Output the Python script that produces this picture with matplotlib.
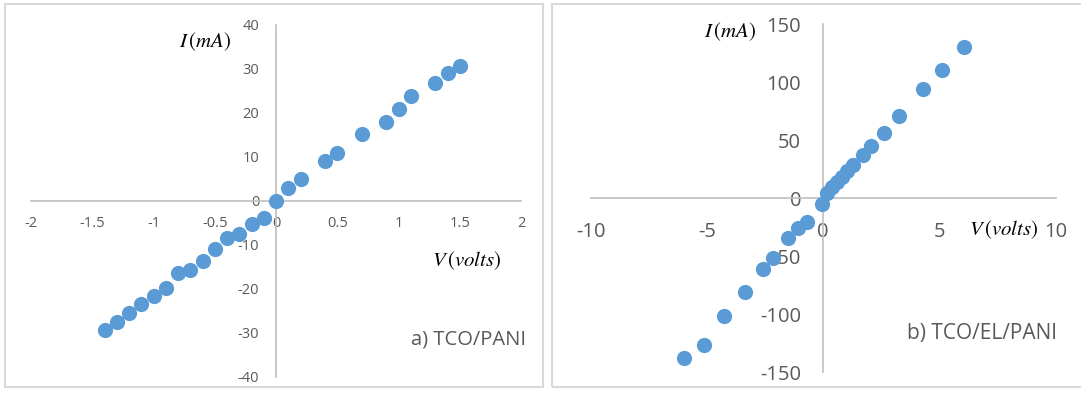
import matplotlib
matplotlib.use("Agg")
import matplotlib.pyplot as plt
from matplotlib.patches import Rectangle

# Curvas I-V medidas
v_a = [-1.4, -1.3, -1.2, -1.1, -1.0, -0.9, -0.8, -0.7, -0.6, -0.5, -0.4, -0.3, -0.2,
       -0.1, 0.0, 0.1, 0.2, 0.4, 0.5, 0.7, 0.9, 1.0, 1.1, 1.3, 1.4, 1.5]
i_a = [-29.4, -27.4, -25.5, -23.3, -21.7, -19.7, -16.3, -15.6, -13.6, -10.8, -8.5, -7.6, -5.2,
       -3.9, 0.0, 2.9, 5.0, 9.0, 10.8, 15.2, 18.0, 20.8, 23.9, 26.9, 29.1, 30.6]

v_b = [-6.0, -5.14, -4.29, -3.39, -2.59, -2.18, -1.52, -1.08, -0.68, -0.07, 0.15, 0.37,
       0.59, 0.82, 1.04, 1.26, 1.71, 2.04, 2.62, 3.25, 4.31, 5.11, 6.05]
i_b = [-137.9, -126.4, -101.4, -80.7, -60.9, -51.7, -34.5, -25.9, -20.7, -4.9, 4.3, 9.5,
       13.8, 18.1, 23.3, 28.2, 37.4, 45.1, 56.3, 70.7, 93.7, 110.6, 130.2]

xticks_a = [-2, -1.5, -1, -0.5, 0, 0.5, 1, 1.5, 2]
yticks_a = [-40, -30, -20, -10, 0, 10, 20, 30, 40]
xticks_b = [-10, -5, 0, 5, 10]
yticks_b = [-150, -100, -50, 0, 50, 100, 150]

W, H = 1081, 393
BLUE = "#5b9bd5"
GRID = "#bfbfbf"
TXT = "#595959"

plt.rcParams["font.family"] = ["Open Sans", "DejaVu Sans"]
plt.rcParams["mathtext.fontset"] = "stix"
plt.rcParams["axes.unicode_minus"] = False

fig = plt.figure(figsize=(W / 100, H / 100), dpi=100)


def px(x, y):
    # pixeles (origen arriba-izquierda) -> fraccion de figura
    return x / W, 1 - y / H


def box(x0, y0, x1, y1):
    fx, fy = px(x0, y1)
    fig.add_artist(Rectangle((fx, fy), (x1 - x0) / W, (y1 - y0) / H,
                             transform=fig.transFigure, fill=False,
                             edgecolor="#d9d9d9", lw=1.5))


def panel(rect, v, i, xt, yt, fs, xpad, ypad):
    ax = fig.add_axes(rect)
    ax.scatter(v, i, s=120, color=BLUE, zorder=3, linewidths=0)
    ax.set_xlim(xt[0], xt[-1])
    ax.set_ylim(yt[0], yt[-1])
    ax.set_xticks(xt)
    ax.set_yticks(yt)
    ax.set_xticklabels([f"{t:g}" for t in xt])
    ax.set_yticklabels([f"{t:g}" for t in yt])
    for s in ("top", "right"):
        ax.spines[s].set_visible(False)
    for s in ("left", "bottom"):
        ax.spines[s].set_position("zero")
        ax.spines[s].set_color(GRID)
        ax.spines[s].set_linewidth(1.2)
    ax.tick_params(axis="x", length=0, labelsize=fs, colors=TXT, pad=xpad)
    ax.tick_params(axis="y", length=0, labelsize=fs, colors=TXT, pad=ypad)
    ax.patch.set_alpha(0)
    return ax


box(5, 4, 543, 387)
box(552, 4, 1090, 387)

l, t = px(31, 25)
r, b = px(521, 377)
ax1 = panel([l, b, r - l, t - b], v_a, i_a, xticks_a, yticks_a, 10.5, 11, 12)

l, t = px(591, 24)
r, b = px(1055.5, 372)
ax2 = panel([l, b, r - l, t - b], v_b, i_b, xticks_b, yticks_b, 14.5, 17, 16)

fig.text(*px(205, 42), r"$I\,(mA)$", fontsize=15, ha="center", va="center")
fig.text(*px(467, 261), r"$V\,(volts)$", fontsize=15, ha="center", va="center")
fig.text(*px(730, 32), r"$I\,(mA)$", fontsize=15, ha="center", va="center")
fig.text(*px(1004, 230), r"$V\,(volts)$", fontsize=15, ha="center", va="center")

fig.text(*px(526, 340), "a) TCO/PANI", fontsize=14.5, color=TXT, ha="right", va="center")
fig.text(*px(1057, 333), "b) TCO/EL/PANI", fontsize=15, color=TXT, ha="right", va="center")

fig.savefig("out.png", dpi=100, facecolor="white")
